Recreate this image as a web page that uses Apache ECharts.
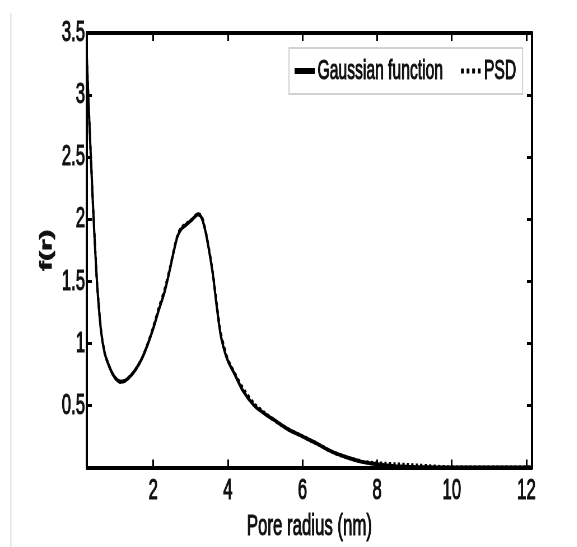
<!DOCTYPE html>
<html>
<head>
<meta charset="utf-8">
<script src="https://cdn.jsdelivr.net/npm/echarts@6/dist/echarts.min.js"></script>
<style>
  html, body { margin: 0; padding: 0; background: #fff; overflow: hidden; }
  /* the figure is laid out wide and then condensed horizontally */
  #chart { width: 1030px; height: 547px; transform: scaleX(0.56); transform-origin: 0 0; }
</style>
</head>
<body>
<div id="chart"></div>
<script>
// Pore radius samples (nm)
const radius = [0.22, 0.26, 0.3, 0.35, 0.4, 0.45, 0.5, 0.6, 0.7, 0.8, 0.9, 1.0, 1.12, 1.25, 1.4,
  1.55, 1.7, 1.85, 2.0, 2.15, 2.3, 2.45, 2.55, 2.65, 2.75, 2.9, 3.05, 3.2, 3.3, 3.4, 3.5, 3.6,
  3.7, 3.8, 3.9, 4.0, 4.2, 4.4, 4.7, 5.0, 5.3, 5.6, 6.0, 6.4, 6.8, 7.2, 7.6, 7.9, 8.2, 8.5,
  8.8, 9.1, 9.4, 9.7, 10.0, 11.0, 12.15];

// Fitted Gaussian function f(r)
const gaussian = [3.3, 2.98, 2.7, 2.35, 2.02, 1.72, 1.46, 1.1, 0.92, 0.83, 0.76, 0.715, 0.69, 0.7, 0.74,
  0.8, 0.88, 0.99, 1.12, 1.27, 1.41, 1.6, 1.74, 1.86, 1.92, 1.96, 2.0, 2.04, 2.01, 1.9, 1.74, 1.55,
  1.3, 1.08, 0.95, 0.86, 0.74, 0.62, 0.5, 0.43, 0.37, 0.31, 0.25, 0.19, 0.125, 0.08, 0.045, 0.03, 0.018, 0.01,
  0.005, 0.002, 0.001, 0, 0, 0, 0];

// Measured pore size distribution
const psd = [3.3, 2.99, 2.7, 2.36, 2.02, 1.73, 1.46, 1.11, 0.92, 0.83, 0.76, 0.715, 0.69, 0.7, 0.74,
  0.8, 0.88, 0.995, 1.13, 1.285, 1.43, 1.61, 1.75, 1.87, 1.93, 1.965, 2.0, 2.04, 2.02, 1.91, 1.75, 1.56,
  1.32, 1.1, 0.97, 0.87, 0.75, 0.64, 0.515, 0.435, 0.37, 0.31, 0.25, 0.19, 0.125, 0.08, 0.047, 0.036, 0.03, 0.025,
  0.02, 0.015, 0.01, 0.004, 0, 0, 0];

const xTicks = [2, 4, 6, 8, 10, 12];
const seriesNames = ['Gaussian function', 'PSD'];

const font = '"Liberation Sans", Arial, Helvetica, sans-serif';
const ink = '#111';
// slightly heavier glyph strokes
const heavy = { textBorderColor: ink, textBorderWidth: 1.1 };

function pairs(xs, ys) { return xs.map((x, i) => [x, ys[i]]); }

const frameX = (pos, labels) => ({
  type: 'value', position: pos, min: 0.22, max: 12.15,
  axisLine: { show: true, onZero: false, lineStyle: { color: '#000', width: 4 } },
  axisTick: { show: true, inside: true, length: 8, customValues: xTicks, lineStyle: { color: '#000', width: 3 } },
  axisLabel: Object.assign({ show: labels, customValues: xTicks, fontSize: 30, fontFamily: font, color: ink, margin: 8 }, heavy),
  splitLine: { show: false }
});

const frameY = (pos, labels) => ({
  type: 'value', position: pos, min: 0, max: 3.5, interval: 0.5,
  axisLine: { show: true, onZero: false, lineStyle: { color: '#000', width: 4 } },
  axisTick: { show: true, inside: true, length: 9, lineStyle: { color: '#000', width: 3 } },
  axisLabel: Object.assign({ show: labels, showMinLabel: false, fontSize: 30, fontFamily: font, color: ink, margin: 3 }, heavy),
  splitLine: { show: false }
});

const chart = echarts.init(document.getElementById('chart'), null, { renderer: 'canvas' });

const xBottom = frameX('bottom', true);
xBottom.name = 'Pore radius (nm)';
xBottom.nameLocation = 'middle';
xBottom.nameGap = 32;
xBottom.nameTextStyle = Object.assign({ fontSize: 30, fontFamily: font, color: ink }, heavy);

const yLeft = frameY('left', true);
yLeft.name = 'f(r)';
yLeft.nameLocation = 'middle';
yLeft.nameGap = 42;
yLeft.nameTextStyle = { fontSize: 30, fontWeight: 'bold', fontFamily: font, color: ink, textBorderColor: ink, textBorderWidth: 1 };

chart.setOption({
  animation: false,
  backgroundColor: '#fff',
  grid: { left: 155, right: 80, top: 33, bottom: 70 },
  xAxis: [xBottom, frameX('top', false)],
  yAxis: [yLeft, frameY('right', false)],
  legend: {
    data: [
      { name: seriesNames[0], lineStyle: { width: 6, type: 'solid' } },
      { name: seriesNames[1], lineStyle: { width: 5, type: 'dotted' } }
    ],
    left: 516, top: 48,
    orient: 'horizontal',
    padding: [8, 11, 8, 7],
    itemGap: 29,
    itemWidth: 36, itemHeight: 14,
    backgroundColor: '#fff',
    borderColor: '#c4c4c4', borderWidth: 1.6,
    itemStyle: { color: 'rgba(0,0,0,0)', borderWidth: 0, opacity: 0 },
    textStyle: Object.assign({ fontSize: 28, fontFamily: font, color: ink, lineHeight: 30 }, heavy)
  },
  graphic: [{
    type: 'line', silent: true,
    shape: { x1: 19.5, y1: 13, x2: 19.5, y2: 547 },
    style: { stroke: '#c8c8c8', lineWidth: 1.6 }
  }],
  series: [
    {
      name: seriesNames[0], type: 'line', xAxisIndex: 0, yAxisIndex: 0,
      data: pairs(radius, gaussian), showSymbol: false, symbol: 'none', smooth: 0.3,
      lineStyle: { color: '#000', width: 4, type: 'solid' }, itemStyle: { color: '#000' }, z: 2
    },
    {
      name: seriesNames[1], type: 'line', xAxisIndex: 0, yAxisIndex: 0,
      data: pairs(radius, psd), showSymbol: false, symbol: 'none', smooth: 0.3,
      lineStyle: { color: '#000', width: 4, type: 'dotted' }, itemStyle: { color: '#000' }, z: 3
    }
  ]
});
</script>
</body>
</html>
